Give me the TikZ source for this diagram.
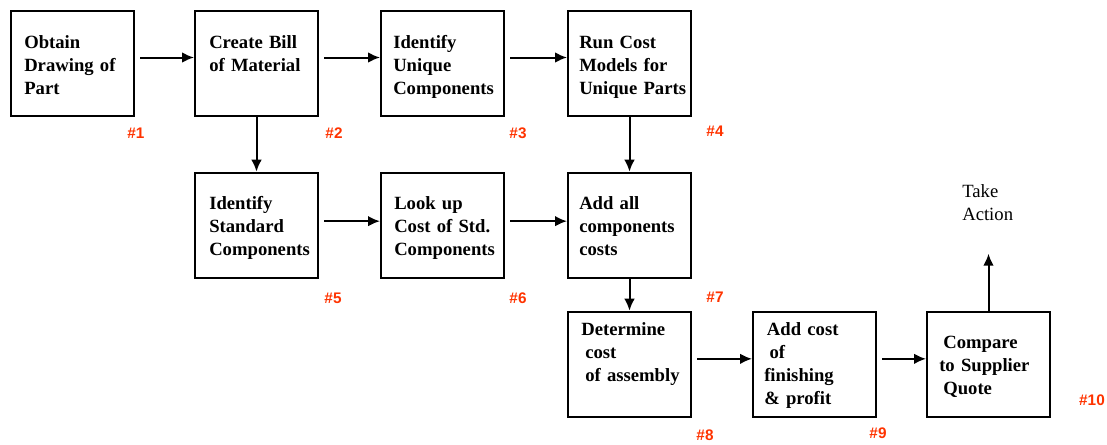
\documentclass[tikz,border=0pt]{standalone}
\usepackage{fontspec}
\setmainfont{Liberation Serif}
\newfontfamily\tagfont{Liberation Sans}
\usetikzlibrary{arrows.meta}
\usetikzlibrary{positioning}
\definecolor{tagred}{RGB}{255,51,0}

\tikzset{
  stage/.style={draw, line width=1.5pt, minimum width=92.25pt, minimum height=78.75pt, inner sep=0pt},
  stagetext/.style={anchor=base west, inner sep=0pt, text width=95pt, align=left,
    font=\fontsize{14}{17.25}\selectfont\bfseries},
  note/.style={anchor=base west, inner sep=0pt, text width=60pt, align=left,
    font=\fontsize{14}{17.25}\selectfont},
  flow/.style={line width=1.5pt, -{Latex[length=9pt,width=8pt]}},
  gap/.style={shorten <=4pt},
  tag/.style={text=tagred, inner sep=0pt, font=\tagfont\bfseries\fontsize{11.5}{12}\selectfont},
}

\begin{document}
\begin{tikzpicture}[x=0.75pt, y=-0.75pt]
\useasboundingbox (0,0) rectangle (1107,444);

% boxes
\node[stage, anchor=north west] (s1) at (10,10) {};
\node[stage, right=44.25pt of s1] (s2) {};
\node[stage, right=45.75pt of s2] (s3) {};
\node[stage, right=46.5pt of s3] (s4) {};
\node[stage, below=41pt of s2] (s5) {};
\node[stage, right=45.75pt of s5] (s6) {};
\node[stage, right=46.5pt of s6] (s7) {};
\node[stage, below=24pt of s7] (s8) {};
\node[stage, right=45pt of s8] (s9) {};
\node[stage, right=36.75pt of s9] (s10) {};

% box texts
\node[stagetext] (t1) at ([shift={(14,38)}]s1.north west) {Obtain\\Drawing of\\Part};
\node[stagetext] (t2) at ([shift={(15,38)}]s2.north west) {Create Bill\\of Material};
\node[stagetext] (t3) at ([shift={(13,38)}]s3.north west) {Identify\\Unique\\Components};
\node[stagetext] (t4) at ([shift={(12,38)}]s4.north west) {Run Cost\\Models for\\Unique Parts};
\node[stagetext] (t5) at ([shift={(15,38)}]s5.north west) {Identify\\Standard\\Components};
\node[stagetext] (t6) at ([shift={(14,38)}]s6.north west) {Look up\\Cost of Std.\\Components};
\node[stagetext] (t7) at ([shift={(12,38)}]s7.north west) {Add all\\components\\costs};
\node[stagetext] (t8) at ([shift={(14,25)}]s8.north west) {Determine\\\hspace*{3pt}cost\\\hspace*{3pt}of assembly};
\node[stagetext] (t9) at ([shift={(12,25)}]s9.north west) {\hspace*{2pt}Add cost\\\hspace*{4pt}of\\finishing\\\& profit};
\node[stagetext] (t10) at ([shift={(13,38)}]s10.north west) {\hspace*{3pt}Compare\\to Supplier\\\hspace*{3pt}Quote};

% step numbers
\node[tag] (tag1) at (136,133) {\#1};
\node[tag] (tag2) at (334,133) {\#2};
\node[tag] (tag3) at (518,133) {\#3};
\node[tag] (tag4) at (715,131) {\#4};
\node[tag] (tag5) at (333,298) {\#5};
\node[tag] (tag6) at (518,298) {\#6};
\node[tag] (tag7) at (715,297) {\#7};
\node[tag] (tag8) at (705,435) {\#8};
\node[tag] (tag9) at (878,433) {\#9};
\node[tag] (tag10) at (1092,400) {\#10};

\node[note] (act) at (962,197) {Take\\Action};
\coordinate (top) at ([yshift=42.75pt]s10.north);

% arrows
\draw[flow, gap] ([yshift=4.5pt]s1.east) -- ([yshift=4.5pt]s2.west);
\draw[flow, gap] ([yshift=4.5pt]s2.east) -- ([yshift=4.5pt]s3.west);
\draw[flow, gap] ([yshift=4.5pt]s3.east) -- ([yshift=4.5pt]s4.west);
\draw[flow, gap] ([yshift=3pt]s5.east) -- ([yshift=3pt]s6.west);
\draw[flow, gap] ([yshift=3pt]s6.east) -- ([yshift=3pt]s7.west);
\draw[flow, gap] ([yshift=4pt]s8.east) -- ([yshift=4pt]s9.west);
\draw[flow, gap] ([yshift=4pt]s9.east) -- ([yshift=4pt]s10.west);
\draw[flow] (s2) -- (s5);
\draw[flow] (s4) -- (s7);
\draw[flow] (s7) -- (s8);
\draw[flow] (s10) -- (top);
\end{tikzpicture}
\end{document}
